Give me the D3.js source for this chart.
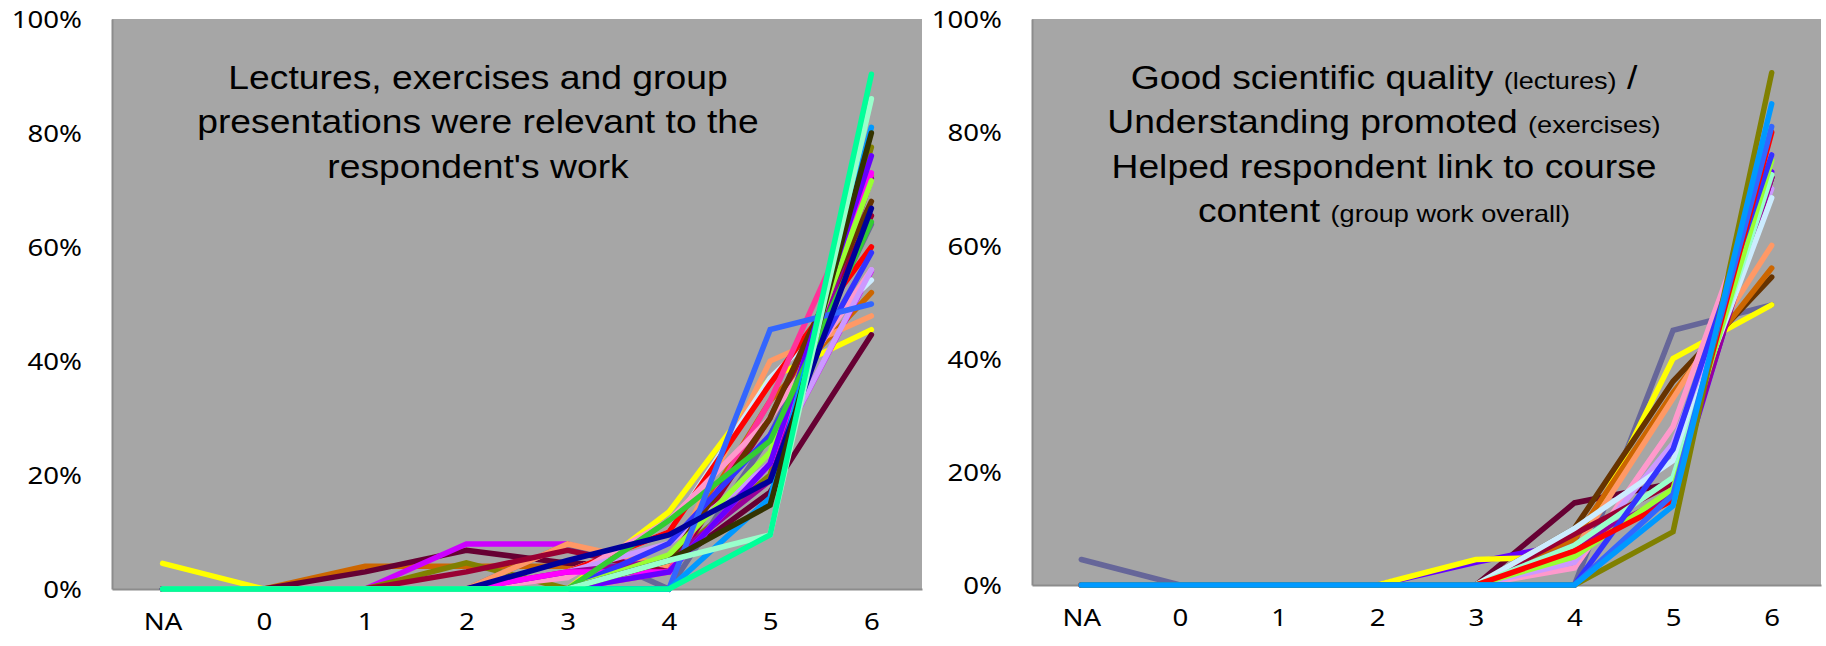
<!DOCTYPE html>
<html>
<head>
<meta charset="utf-8">
<script src="https://cdn.jsdelivr.net/npm/d3@7"></script>
<style>
  body { margin: 0; background: #fff; }
  svg { display: block; }
</style>
</head>
<body>
<div id="chart"></div>
<script>
// categories on the x axis and the y ticks
const categories = ["NA", "0", "1", "2", "3", "4", "5", "6"];
const yTicks = [0, 0.2, 0.4, 0.6, 0.8, 1];

// left panel: one colour + one row of shares per series
const leftColors = [
  "#FFFF00", "#CC6600", "#660033", "#CC00FF", "#808000", "#666699",
  "#FF9966", "#CCECFF", "#FF0000", "#990033", "#FF3399", "#FF99CC",
  "#CC99FF", "#990099", "#FF00FF", "#663300", "#3333FF", "#99FF33",
  "#6600FF", "#33CC33", "#3366FF", "#0099FF", "#000099", "#333300",
  "#99FFCC", "#00FF99"
];
const leftValues = [
  [0.045, 0, 0, 0, 0, 0.135, 0.37, 0.455],
  [0, 0, 0.04, 0.04, 0.04, 0.045, 0.33, 0.52],
  [0, 0, 0.03, 0.068, 0.045, 0.04, 0.17, 0.446],
  [0, 0, 0, 0.079, 0.079, 0.03, 0.22, 0.558],
  [0, 0, 0, 0.046, 0, 0.05, 0.2, 0.775],
  [0, 0, 0, 0, 0.079, 0, 0.27, 0.64],
  [0, 0, 0, 0, 0.079, 0.04, 0.40, 0.479],
  [0, 0, 0, 0, 0.03, 0.10, 0.37, 0.542],
  [0, 0, 0, 0, 0.03, 0.10, 0.36, 0.60],
  [0, 0, 0, 0.03, 0.068, 0.03, 0.30, 0.655],
  [0, 0, 0, 0, 0, 0.03, 0.33, 0.725],
  [0, 0, 0, 0, 0.02, 0.12, 0.30, 0.56],
  [0, 0, 0, 0, 0.03, 0.08, 0.22, 0.56],
  [0, 0, 0, 0, 0.03, 0.05, 0.19, 0.72],
  [0, 0, 0, 0, 0.03, 0.03, 0.22, 0.73],
  [0, 0, 0, 0, 0, 0.05, 0.30, 0.68],
  [0, 0, 0, 0, 0, 0.08, 0.27, 0.59],
  [0, 0, 0, 0, 0, 0.06, 0.24, 0.716],
  [0, 0, 0, 0, 0, 0.03, 0.22, 0.76],
  [0, 0, 0, 0, 0, 0.12, 0.26, 0.644],
  [0, 0, 0, 0, 0, 0, 0.455, 0.50],
  [0, 0, 0, 0, 0, 0, 0.16, 0.81],
  [0, 0, 0, 0, 0.05, 0.095, 0.19, 0.668],
  [0, 0, 0, 0, 0, 0.05, 0.147, 0.80],
  [0, 0, 0, 0, 0, 0.05, 0.095, 0.86],
  [0, 0, 0, 0, 0, 0, 0.095, 0.903]
];

// right panel
const rightColors = [
  "#666699", "#660033", "#6600FF", "#FFFF00", "#663300", "#CC6600",
  "#FF9966", "#FF99CC", "#CC99FF", "#990033", "#990099", "#CCECFF",
  "#99FFCC", "#99FF33", "#3333FF", "#FF0000", "#3366FF", "#808000",
  "#0099FF"
];
const rightValues = [
  [0.045, 0, 0, 0, 0, 0, 0.45, 0.495],
  [0, 0, 0, 0, 0, 0.145, 0.18, 0.72],
  [0, 0, 0, 0, 0.04, 0.075, 0.15, 0.73],
  [0, 0, 0, 0, 0.045, 0.05, 0.40, 0.495],
  [0, 0, 0, 0, 0, 0.10, 0.36, 0.544],
  [0, 0, 0, 0, 0, 0.08, 0.34, 0.56],
  [0, 0, 0, 0, 0, 0.06, 0.33, 0.60],
  [0, 0, 0, 0, 0, 0.03, 0.28, 0.76],
  [0, 0, 0, 0, 0, 0.04, 0.25, 0.70],
  [0, 0, 0, 0, 0, 0.09, 0.18, 0.72],
  [0, 0, 0, 0, 0, 0.07, 0.16, 0.72],
  [0, 0, 0, 0, 0, 0.10, 0.22, 0.684],
  [0, 0, 0, 0, 0, 0.07, 0.19, 0.725],
  [0, 0, 0, 0, 0, 0.05, 0.17, 0.75],
  [0, 0, 0, 0, 0, 0, 0.24, 0.76],
  [0, 0, 0, 0, 0, 0.06, 0.15, 0.80],
  [0, 0, 0, 0, 0, 0, 0.16, 0.81],
  [0, 0, 0, 0, 0, 0, 0.094, 0.905],
  [0, 0, 0, 0, 0, 0, 0.14, 0.85]
];

const leftTitle = [
  [["Lectures, exercises and group", false]],
  [["presentations were relevant to the", false]],
  [["respondent's work", false]]
];
const rightTitle = [
  [["Good scientific quality ", false], ["(lectures)", true], [" /", false]],
  [["Understanding promoted ", false], ["(exercises)", true]],
  [["Helped respondent link to course", false]],
  [["content ", false], ["(group work overall)", true]]
];

const W = 1826, H = 646;
const svg = d3.select("#chart").append("svg").attr("width", W).attr("height", H);

const panels = [
  { x0: 112, x1: 922, y0: 19, y1: 589, colors: leftColors, values: leftValues, title: leftTitle, tx: 478 },
  { x0: 1032, x1: 1821, y0: 19, y1: 585, colors: rightColors, values: rightValues, title: rightTitle, tx: 1384 }
];

const tickStretch = 1.15;
const titleStretch = 1.13;

panels.forEach(p => {
  const x = d3.scalePoint().domain(categories).range([p.x0, p.x1]).padding(0.5);
  const y = d3.scaleLinear().domain([0, 1]).range([p.y1, p.y0]);

  svg.append("rect")
    .attr("x", p.x0).attr("y", p.y0)
    .attr("width", p.x1 - p.x0).attr("height", p.y1 - p.y0)
    .attr("fill", "#A6A6A6");

  // y axis labels
  const ya = svg.append("g").attr("transform", `translate(${p.x0},0)`)
    .call(d3.axisLeft(y).tickValues(yTicks).tickFormat(d3.format(".0%")).tickSize(0));
  ya.select(".domain").attr("stroke", "#8C8C8C").attr("stroke-width", 2);
  ya.selectAll("text")
    .attr("x", 0).attr("dy", "0.36em")
    .attr("transform", `translate(-30,0) scale(${tickStretch},1)`)
    .attr("font-family", "Noto Sans").attr("font-size", 24).attr("fill", "#000");

  // x axis labels
  const xa = svg.append("g").attr("transform", `translate(0,${p.y1})`)
    .call(d3.axisBottom(x).tickSize(0));
  xa.select(".domain").attr("stroke", "#8C8C8C").attr("stroke-width", 2);
  xa.selectAll(".tick text")
    .attr("y", 0).attr("dy", "0.36em")
    .attr("transform", `translate(0,32) scale(${tickStretch},1)`)
    .attr("font-family", "Noto Sans").attr("font-size", 24).attr("fill", "#000");

  // title
  const tg = svg.append("g").attr("transform", `translate(${p.tx},0) scale(${titleStretch},1)`);
  p.title.forEach((parts, i) => {
    const t = tg.append("text")
      .attr("x", 0).attr("y", 89 + i * 44.5)
      .attr("text-anchor", "middle")
      .attr("font-family", "Liberation Sans, Arial, sans-serif")
      .attr("font-size", 33).attr("fill", "#000");
    parts.forEach(([s, small]) => {
      t.append("tspan").attr("font-size", small ? 24 : 33).text(s);
    });
  });

  // series lines
  const line = d3.line().x((d, i) => x(categories[i])).y(d => y(d));
  svg.append("g").selectAll("path")
    .data(p.values)
    .join("path")
    .attr("d", line)
    .attr("fill", "none")
    .attr("stroke", (d, i) => p.colors[i])
    .attr("stroke-width", 5.5)
    .attr("stroke-linecap", "round")
    .attr("stroke-linejoin", "miter");
});
</script>
</body>
</html>
